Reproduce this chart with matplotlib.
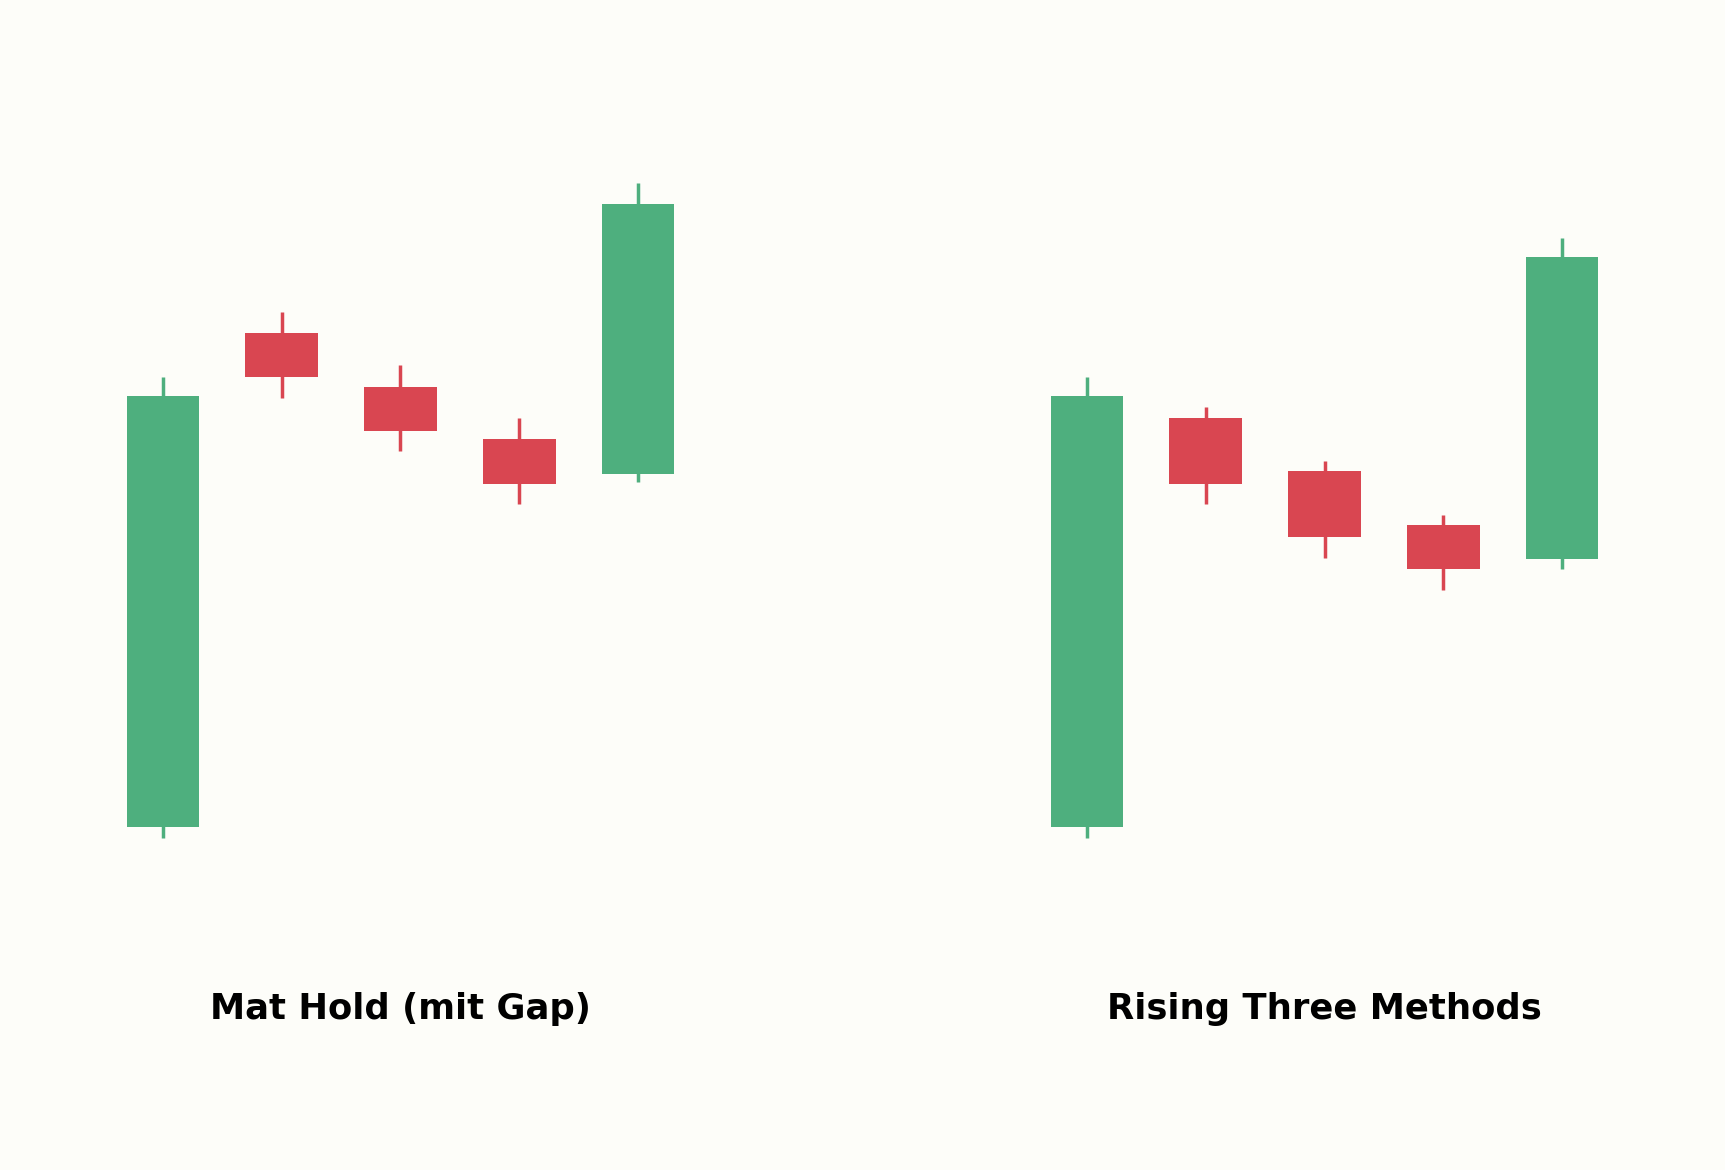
import matplotlib
matplotlib.use("Agg")
import matplotlib.pyplot as plt
from matplotlib.patches import Rectangle

# Data (price units)
titles = ["Mat Hold (mit Gap)", "Rising Three Methods"]

mat_open  = [100.0, 111.45, 110.22, 109.0, 108.2]
mat_high  = [110.45, 111.95, 110.72, 109.5, 114.95]
mat_low   = [99.75, 109.95, 108.72, 107.5, 108.0]
mat_close = [110.0, 110.45, 109.2, 107.97, 114.45]

rtm_open  = [100.0, 109.5, 108.25, 107.02, 106.22]
rtm_high  = [110.45, 109.75, 108.5, 107.25, 113.67]
rtm_low   = [99.75, 107.5, 106.25, 105.5, 106.0]
rtm_close = [110.0, 107.97, 106.72, 105.98, 113.22]

GREEN = "#4eaf7e"
RED = "#d94651"
BG = "#fdfdf9"

fig = plt.figure(figsize=(17.25, 11.7), dpi=100, facecolor=BG)

panels = [
    (mat_open, mat_high, mat_low, mat_close),
    (rtm_open, rtm_high, rtm_low, rtm_close),
]
positions = [
    [0.0255, 0.2192, 0.4133, 0.7372],
    [0.5612, 0.2192, 0.4133, 0.7372],
]

for (o, h, l, c), pos, title in zip(panels, positions, titles):
    ax = fig.add_axes(pos)
    ax.set_facecolor(BG)
    for i in range(len(o)):
        col = GREEN if c[i] >= o[i] else RED
        ax.plot([i, i], [l[i], h[i]], color=col, linewidth=2.5, solid_capstyle="butt", zorder=1)
        bottom = min(o[i], c[i])
        height = abs(c[i] - o[i])
        ax.add_patch(Rectangle((i - 0.305, bottom), 0.61, height, facecolor=col,
                               edgecolor="none", zorder=2))
    ax.set_xlim(-1, 5)
    ax.set_ylim(98, 118)
    ax.axis("off")
    fig.text(pos[0] + pos[2] / 2, 0.1372, title, ha="center", va="center",
             fontsize=25.5, fontweight="bold", color="black")

fig.savefig("out.png", dpi=100, facecolor=BG)
